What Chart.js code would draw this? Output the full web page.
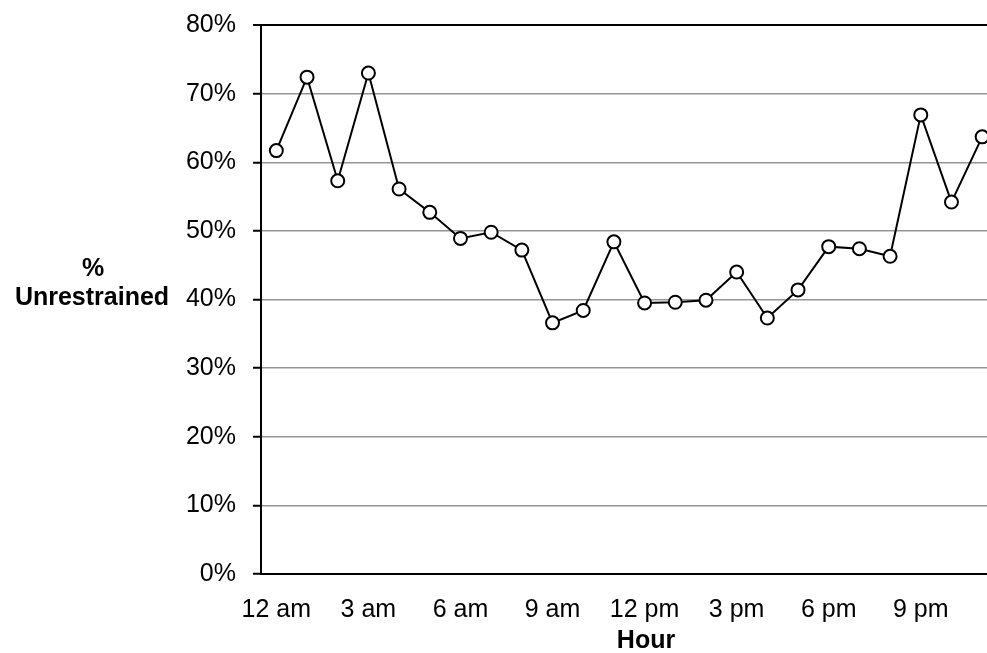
<!DOCTYPE html>
<html>
<head>
<meta charset="utf-8">
<script src="https://cdn.jsdelivr.net/npm/chart.js@4.4.1/dist/chart.umd.min.js"></script>
<style>
  html, body { margin: 0; padding: 0; background: #fff; overflow: hidden; }
  #wrap { width: 1006px; height: 653px; }
</style>
</head>
<body>
<div id="wrap"><canvas id="chart" width="1006" height="653"></canvas></div>
<script>
// hour of day, one point each
const hours = [
  "12 am", "1 am", "2 am", "3 am", "4 am", "5 am", "6 am", "7 am", "8 am", "9 am", "10 am", "11 am",
  "12 pm", "1 pm", "2 pm", "3 pm", "4 pm", "5 pm", "6 pm", "7 pm", "8 pm", "9 pm", "10 pm", "11 pm"
];
// share unrestrained, in percent
const unrestrained = [
  61.7, 72.4, 57.3, 73.0, 56.1, 52.7, 48.9, 49.8, 47.2, 36.6, 38.4, 48.4,
  39.5, 39.6, 39.9, 44.0, 37.3, 41.4, 47.7, 47.4, 46.3, 66.9, 54.2, 63.7
];
// only every third hour gets a label
const shownHours = ["12 am", "3 am", "6 am", "9 am", "12 pm", "3 pm", "6 pm", "9 pm"];

const yTicks = [0, 10, 20, 30, 40, 50, 60, 70, 80];

const fontFamily = '"Liberation Sans", Arial, sans-serif';

// axis titles are horizontal in the original, so draw them by hand
const titles = {
  id: "titles",
  afterDraw(chart) {
    const c = chart.ctx;
    c.save();
    c.fillStyle = "#000";
    c.font = "bold 25px " + fontFamily;
    c.textAlign = "center";
    c.textBaseline = "middle";
    c.fillText("%", 93, 269);
    c.fillText("Unrestrained", 92, 298);
    c.fillText("Hour", 646, 641);
    c.restore();
  }
};

new Chart(document.getElementById("chart"), {
  type: "line",
  data: {
    labels: hours,
    datasets: [{
      data: unrestrained,
      borderColor: "#000",
      borderWidth: 2,
      pointRadius: 6.5,
      pointBorderWidth: 2,
      pointBackgroundColor: "#fff",
      pointBorderColor: "#000",
      tension: 0
    }]
  },
  options: {
    responsive: false,
    animation: false,
    layout: { padding: { top: 25, right: 3.5, bottom: 0, left: 0 } },
    plugins: { legend: { display: false }, tooltip: { enabled: false } },
    scales: {
      x: {
        offset: true,
        grid: { display: false, drawTicks: false },
        border: { display: true, color: "#000", width: 2 },
        ticks: {
          autoSkip: false,
          maxRotation: 0,
          padding: 21,
          color: "#000",
          font: { family: fontFamily, size: 25 },
          callback: function (v, i) {
            const h = hours[i];
            return shownHours.includes(h) ? h : "";
          }
        },
        afterFit: function (s) { s.height = 79; s.paddingLeft = 0; s.paddingRight = 0; }
      },
      y: {
        min: 0,
        max: 80,
        afterBuildTicks: function (s) { s.ticks = yTicks.map(v => ({ value: v })); },
        grid: {
          color: ctx => ctx.tick && ctx.tick.value === 80 ? "#000" : "#959595",
          lineWidth: ctx => ctx.tick && ctx.tick.value === 80 ? 2 : 1.5,
          tickColor: "#000",
          tickWidth: 2,
          tickLength: 8
        },
        border: { display: true, color: "#000", width: 2 },
        ticks: {
          padding: 17,
          color: "#000",
          font: { family: fontFamily, size: 25 },
          callback: v => v + "%"
        },
        afterFit: function (s) { s.width = 261; s.paddingTop = 0; s.paddingBottom = 0; }
      }
    }
  },
  plugins: [titles]
});
</script>
</body>
</html>
